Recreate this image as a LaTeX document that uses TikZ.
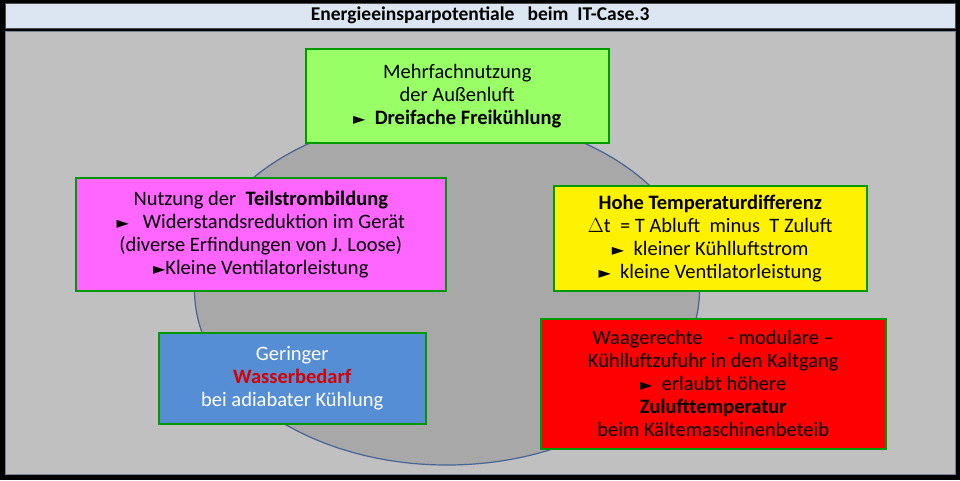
\documentclass[tikz,border=0pt]{standalone}
\usepackage{fontspec}
\usetikzlibrary{shapes.geometric}
\setmainfont{Carlito}
\newfontfamily\symf{DejaVu Sans}
\begin{document}
\begin{tikzpicture}[x=1pt,y=-1pt,
  box/.style={draw=green!60!black,line width=1.5pt,align=center,anchor=north west,inner sep=0pt},
  txt/.style={align=center,font=\fontsize{20.5}{23}\selectfont}]
\newcommand{\tr}{{\symf\fontsize{16}{16}\selectfont ►}}
\fill[black] (0,0) rectangle (960,480);
\useasboundingbox (0,0) rectangle (960,480);
\node[fill={rgb,255:red,220;green,230;blue,242},draw=black!70,minimum width=950pt,minimum height=25pt,anchor=north west,inner sep=0pt] (title) at (5,3) {};
\node[font=\fontsize{19.5}{20}\selectfont\bfseries] (tt) at (title.center) {Energieeinsparpotentiale\ \ \ beim\ \ IT-Case.3};
\node[fill={rgb,255:red,192;green,192;blue,192},draw={rgb,255:red,120;green,130;blue,150},minimum width=950pt,minimum height=443pt,anchor=north west,inner sep=0pt] (panel) at (5,31) {};
\node[ellipse,draw={rgb,255:red,70;green,100;blue,150},line width=1.2pt,fill={rgb,255:red,168;green,168;blue,168},minimum width=505pt,minimum height=350pt,inner sep=0pt] (ring) at (447,290) {};
\node[box,fill={rgb,255:red,153;green,255;blue,102},minimum width=303pt,minimum height=94pt] (g) at (305,48) {};
\node[txt] (gt) at (g.center) {Mehrfachnutzung\\der Außenluft\\\tr\ \ \textbf{Dreifache Freikühlung}};
\node[box,fill={rgb,255:red,255;green,102;blue,255},minimum width=370pt,minimum height=113pt] (m) at (75,177) {};
\node[txt] (mt) at (m.center) {Nutzung der\ \ \textbf{Teilstrombildung}\\\tr\ \ \ Widerstandsreduktion im Gerät\\(diverse Erfindungen von J. Loose)\\\tr Kleine Ventilatorleistung};
\node[box,fill=yellow,minimum width=313pt,minimum height=105pt] (y) at (553,185) {};
\node[txt] (yt) at (y.center) {\textbf{Hohe Temperaturdifferenz}\\$\Delta$t\ \ = T Abluft\ \ minus\ \ T Zuluft\\\tr\ \ kleiner Kühlluftstrom\\\tr\ \ kleine Ventilatorleistung};
\node[box,fill={rgb,255:red,85;green,142;blue,213},minimum width=267pt,minimum height=91pt] (b) at (158,332) {};
\node[txt,text=white] (bt) at (b.center) {Geringer\\\textcolor{red!85!black}{\textbf{Wasserbedarf}}\\bei adiabater Kühlung};
\node[box,fill=red,minimum width=345pt,minimum height=130pt] (r) at (540,318) {};
\node[txt] (rt) at (r.center) {Waagerechte\quad\ - modulare –\\Kühlluftzufuhr in den Kaltgang\\\tr\ \ erlaubt höhere\\\textbf{Zulufttemperatur}\\beim Kältemaschinenbeteib};
\end{tikzpicture}
\end{document}
